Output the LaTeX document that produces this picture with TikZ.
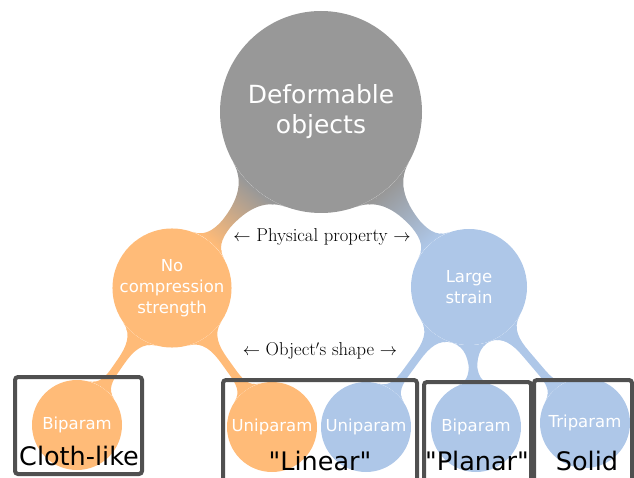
\documentclass[tikz,border=0pt]{standalone}
\usepackage{fontspec}
\setsansfont{DejaVu Sans}
\usetikzlibrary{mindmap}
\pgfdeclarelayer{background}
\pgfsetlayers{background,main}
\definecolor{cgray}{RGB}{152,152,152}
\definecolor{corange}{RGB}{255,187,120}
\definecolor{cblue}{RGB}{174,199,232}
\definecolor{boxgray}{RGB}{80,80,80}
\begin{document}
\begin{tikzpicture}[x=1pt,y=1pt,
  conc/.style={circle, inner sep=0pt, text=white, align=center},
  rootc/.style={conc, minimum size=202pt, fill=cgray, font=\sffamily\fontsize{25}{30}\selectfont},
  midc/.style={conc, minimum size=116pt, font=\sffamily\fontsize{16.5}{21}\selectfont},
  leafc/.style={conc, minimum size=90pt, font=\sffamily\fontsize{16.5}{20}\selectfont},
  groupbox/.style={draw=boxgray, line width=4pt, rounded corners=3pt},
  grouplabel/.style={font=\sffamily\fontsize{25.5}{30}\selectfont, text=black, inner sep=0pt, anchor=base},
  annot/.style={font=\fontsize{18.6}{22}\selectfont, inner sep=0pt},
]
\useasboundingbox (0,0) rectangle (634,477);
% concepts
\node[rootc] (root) at (321,365) {Deformable\\objects};
\node[midc, fill=corange] (nc) at (172,189) {No\\compression\\strength};
\node[midc, fill=cblue] (ls) at (469,190) {Large\\strain};
\node[leafc, fill=corange] (bi1) at (77,52) {Biparam};
\node[leafc, fill=corange] (uni1) at (272,50) {Uniparam};
\node[leafc, fill=cblue] (uni2) at (366,50) {Uniparam};
\node[leafc, fill=cblue] (bi2) at (476,50) {Biparam};
\node[leafc, fill=cblue] (tri) at (585,54) {Triparam};
% connections
\begin{pgfonlayer}{background}
\path (root) to[circle connection bar switch color=from (cgray) to (corange)] (nc);
\path (root) to[circle connection bar switch color=from (cgray) to (cblue)] (ls);
\path (nc) to[circle connection bar switch color=from (corange) to (corange)] (bi1);
\path (nc) to[circle connection bar switch color=from (corange) to (corange)] (uni1);
\path (ls) to[circle connection bar switch color=from (cblue) to (cblue)] (uni2);
\path (ls) to[circle connection bar switch color=from (cblue) to (cblue)] (bi2);
\path (ls) to[circle connection bar switch color=from (cblue) to (cblue)] (tri);
\end{pgfonlayer}
% annotations
\node[annot] (phys) at (322,240) {$\leftarrow$ Physical property $\rightarrow$};
\node[annot] (shape) at (320,126) {$\leftarrow$ Object$'$s shape $\rightarrow$};
% group boxes
\draw[groupbox] (15,3) rectangle (142,100);
\draw[groupbox] (223,-10) rectangle (417,97);
\draw[groupbox] (424,-10) rectangle (531,95);
\draw[groupbox] (534,-10) rectangle (632,97);
\node[grouplabel] (lcloth) at (79,12) {Cloth-like};
\node[grouplabel] (llin) at (320,7) {\textquotedbl Linear\textquotedbl};
\node[grouplabel] (lplan) at (477,7) {\textquotedbl Planar\textquotedbl};
\node[grouplabel] (lsol) at (587,7) {Solid};
\end{tikzpicture}
\end{document}
